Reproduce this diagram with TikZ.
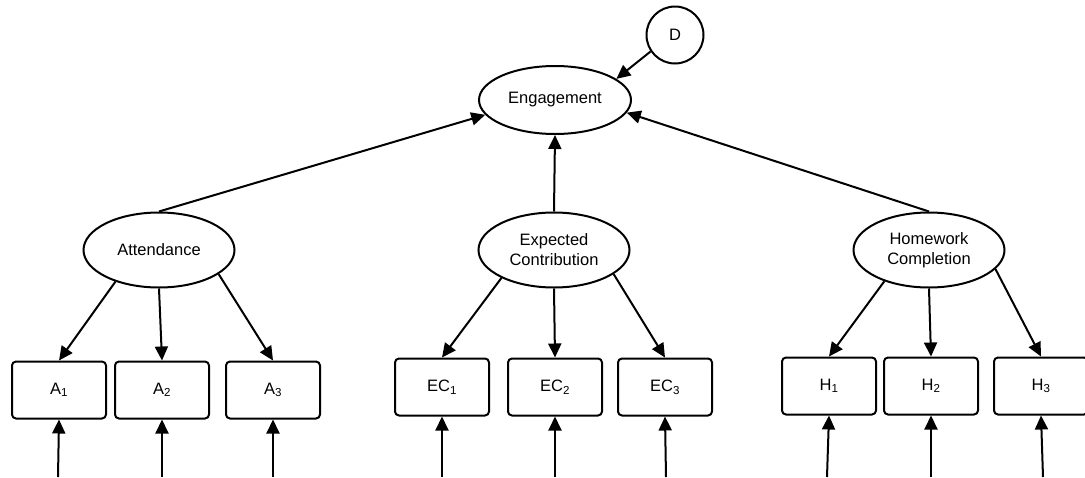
\documentclass[tikz,border=0pt]{standalone}
\usepackage{fontspec}
\setmainfont{Liberation Sans}
\usetikzlibrary{shapes.geometric,arrows.meta}
\begin{document}
\begin{tikzpicture}[x=1pt,y=-1pt,
  every node/.style={font=\fontsize{16.5}{20}\selectfont},
  latent/.style={draw, line width=2pt, ellipse, inner sep=0pt, minimum width=151pt, minimum height=75pt, align=center},
  obs/.style={draw, line width=2pt, rectangle, rounded corners=4pt, minimum width=94pt, minimum height=57pt, inner sep=0pt},
  arr/.style={line width=2pt, -{Triangle[length=14pt,width=13pt]}}
]
\useasboundingbox (0,0) rectangle (1085,477);
\fill[white] (0,0) rectangle (1085,477);

\node[draw, line width=2pt, circle, minimum size=57pt, inner sep=0pt] (D) at (675,35) {D};
\node[latent, minimum width=152pt, minimum height=68pt] (Eng) at (555,100) {Engagement};
\node[latent] (Att) at (159,250) {Attendance};
\node[latent] (EC) at (554,250) {Expected\\Contribution};
\node[latent] (HW) at (929,250) {Homework\\Completion};

\node[obs] (A1) at (59,390) {A\textsubscript{1}};
\node[obs] (A2) at (162,390) {A\textsubscript{2}};
\node[obs] (A3) at (273,390) {A\textsubscript{3}};
\node[obs] (EC1) at (442,387) {EC\textsubscript{1}};
\node[obs] (EC2) at (555,387) {EC\textsubscript{2}};
\node[obs] (EC3) at (665,387) {EC\textsubscript{3}};
\node[obs] (H1) at (829,386) {H\textsubscript{1}};
\node[obs] (H2) at (931,386) {H\textsubscript{2}};
\node[obs] (H3) at (1041,386) {H\textsubscript{3}};

\coordinate (eA1) at (58,477);
\coordinate (eA2) at (162,477);
\coordinate (eA3) at (273,477);
\coordinate (eEC1) at (442,477);
\coordinate (eEC2) at (555,477);
\coordinate (eEC3) at (666,477);
\coordinate (eH1) at (827,477);
\coordinate (eH2) at (931,477);
\coordinate (eH3) at (1043,477);

% structural paths
\draw[arr] (D.214) -- (Eng.19);
\draw[arr] (Att.north) -- (Eng.192);
\draw[arr] (EC.north) -- (Eng.south);
\draw[arr] (HW.north) -- (Eng.350);

% loadings
\draw[arr] (Att.216) -- (A1.north);
\draw[arr] (Att.south) -- (A2.north);
\draw[arr] (Att.338) -- (A3.north);
\draw[arr] (EC.208) -- (EC1.north);
\draw[arr] (EC.south) -- (EC2.north);
\draw[arr] (EC.338) -- (EC3.north);
\draw[arr] (HW.215) -- (H1.north);
\draw[arr] (HW.south) -- (H2.north);
\draw[arr] (HW.344) -- (H3.north);

% errors
\foreach \n in {A1,A2,A3,EC1,EC2,EC3,H1,H2,H3}
  \draw[arr] (e\n) -- (\n.south);
\end{tikzpicture}
\end{document}
